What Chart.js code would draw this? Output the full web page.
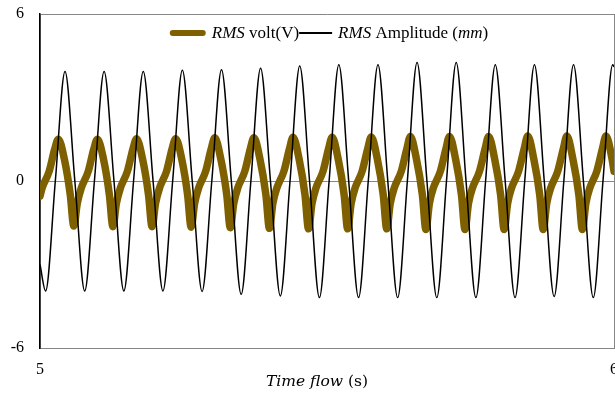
<!DOCTYPE html>
<html>
<head>
<meta charset="utf-8">
<script src="https://cdn.jsdelivr.net/npm/chart.js@4.4.1/dist/chart.umd.min.js"></script>
<style>
  html, body { margin: 0; padding: 0; background: #fff; }
  #wrap { width: 615px; height: 394px; }
</style>
</head>
<body>
<div id="wrap"><canvas id="grafico"></canvas></div>
<script>
// RMS Amplitude (mm): trough, zero, peak, zero of every cycle
const ampTime = [5.0000,
  5.0098, 5.0267, 5.0436, 5.0607,
  5.0779, 5.0948, 5.1117, 5.1289,
  5.1461, 5.1630, 5.1799, 5.1970,
  5.2142, 5.2311, 5.2480, 5.2652,
  5.2824, 5.2993, 5.3162, 5.3333,
  5.3505, 5.3674, 5.3843, 5.4015,
  5.4187, 5.4356, 5.4525, 5.4696,
  5.4868, 5.5037, 5.5206, 5.5378,
  5.5550, 5.5719, 5.5888, 5.6059,
  5.6231, 5.6400, 5.6569, 5.6741,
  5.6913, 5.7082, 5.7251, 5.7422,
  5.7594, 5.7763, 5.7932, 5.8104,
  5.8276, 5.8445, 5.8614, 5.8785,
  5.8957, 5.9126, 5.9295, 5.9467,
  5.9639, 5.9808, 5.9977, 6.0000]
const ampValue = [-3.0,
  -3.95, 0, 3.93, 0,
  -3.95, 0, 3.93, 0,
  -3.95, 0, 3.93, 0,
  -3.95, 0, 3.98, 0,
  -3.97, 0, 4.00, 0,
  -4.07, 0, 4.05, 0,
  -4.13, 0, 4.13, 0,
  -4.19, 0, 4.18, 0,
  -4.19, 0, 4.18, 0,
  -4.19, 0, 4.26, 0,
  -4.19, 0, 4.26, 0,
  -4.19, 0, 4.18, 0,
  -4.19, 0, 4.18, 0,
  -4.15, 0, 4.18, 0,
  -4.19, 0, 4.18, 4.10]

// RMS volt (V)
const voltTime = [5.0000, 5.0038, 5.0160, 5.0256,
  5.0319, 5.0423, 5.0528, 5.0589, 5.0650, 5.0720, 5.0841, 5.0937,
  5.1000, 5.1105, 5.1209, 5.1270, 5.1331, 5.1401, 5.1523, 5.1619,
  5.1682, 5.1786, 5.1891, 5.1952, 5.2013, 5.2083, 5.2205, 5.2300,
  5.2363, 5.2468, 5.2572, 5.2633, 5.2694, 5.2764, 5.2886, 5.2982,
  5.3045, 5.3149, 5.3254, 5.3315, 5.3376, 5.3446, 5.3568, 5.3663,
  5.3726, 5.3831, 5.3936, 5.3997, 5.4057, 5.4127, 5.4249, 5.4345,
  5.4408, 5.4513, 5.4617, 5.4678, 5.4739, 5.4809, 5.4931, 5.5026,
  5.5090, 5.5194, 5.5299, 5.5360, 5.5421, 5.5490, 5.5612, 5.5708,
  5.5771, 5.5876, 5.5980, 5.6041, 5.6102, 5.6172, 5.6294, 5.6390,
  5.6453, 5.6557, 5.6662, 5.6723, 5.6784, 5.6853, 5.6975, 5.7071,
  5.7134, 5.7239, 5.7343, 5.7404, 5.7465, 5.7535, 5.7657, 5.7753,
  5.7816, 5.7920, 5.8025, 5.8086, 5.8147, 5.8216, 5.8338, 5.8434,
  5.8497, 5.8602, 5.8706, 5.8767, 5.8828, 5.8898, 5.9020, 5.9116,
  5.9179, 5.9283, 5.9388, 5.9449, 5.9510, 5.9579, 5.9701, 5.9797,
  5.9860, 5.9965, 6.0000]
const voltValue = [-0.55, -0.25, 0.35, 1.15,
  1.50, 0.80, -0.50, -1.62, -0.80, -0.25, 0.35, 1.15,
  1.50, 0.80, -0.50, -1.64, -0.80, -0.25, 0.35, 1.15,
  1.52, 0.80, -0.50, -1.64, -0.80, -0.25, 0.35, 1.15,
  1.52, 0.80, -0.50, -1.66, -0.80, -0.25, 0.35, 1.15,
  1.55, 0.80, -0.50, -1.68, -0.80, -0.25, 0.35, 1.15,
  1.55, 0.80, -0.50, -1.70, -0.80, -0.25, 0.35, 1.15,
  1.57, 0.80, -0.50, -1.72, -0.80, -0.25, 0.35, 1.15,
  1.57, 0.80, -0.50, -1.72, -0.80, -0.25, 0.35, 1.15,
  1.58, 0.80, -0.50, -1.72, -0.80, -0.25, 0.35, 1.15,
  1.60, 0.80, -0.50, -1.74, -0.80, -0.25, 0.35, 1.15,
  1.60, 0.80, -0.50, -1.74, -0.80, -0.25, 0.35, 1.15,
  1.60, 0.80, -0.50, -1.74, -0.80, -0.25, 0.35, 1.15,
  1.62, 0.80, -0.50, -1.74, -0.80, -0.25, 0.35, 1.15,
  1.62, 0.80, -0.50, -1.74, -0.80, -0.25, 0.35, 1.15,
  1.62, 0.80, 0.35]

const xTicks = [5, 6]
const yTicks = [-6, 0, 6]

const voltLabel = [['RMS', true], [' volt(V)', false]]
const ampLabel = [['RMS', true], [' Amplitude (', false], ['mm', true], [')', false]]
const xTitle = [['Time flow', true], [' (s)', false]]

const toPoints = (xs, ys) => xs.map((x, i) => ({x: x, y: ys[i]}))

// draws a run of text pieces, some in italics, starting at x
function drawParts(ctx, parts, x, y, size, family) {
  parts.forEach(([txt, it]) => {
    ctx.font = (it ? 'italic ' : '') + size + 'px ' + family
    ctx.fillText(txt, x, y)
    x += ctx.measureText(txt).width
  })
  return x
}
function partsWidth(ctx, parts, size, family) {
  let w = 0
  parts.forEach(([txt, it]) => {
    ctx.font = (it ? 'italic ' : '') + size + 'px ' + family
    w += ctx.measureText(txt).width
  })
  return w
}

const textos = {
  id: 'textos',
  afterDraw(chart) {
    const ctx = chart.ctx
    const area = chart.chartArea
    const serif = '"Liberation Serif", "Times New Roman", serif'
    ctx.save()
    ctx.fillStyle = '#000'
    ctx.textBaseline = 'middle'

    // legend across the top of the plot
    const items = chart.data.datasets.map(ds => ({
      parts: ds.parts, color: ds.borderColor, w: ds.legendWidth, lw: ds.legendLine
    }))
    let total = 0
    items.forEach(it => { total += it.w + 6 + partsWidth(ctx, it.parts, 17, serif) })
    let x = (area.left + area.right) / 2 + 2 - total / 2
    const y = area.top + 19
    items.forEach(it => {
      ctx.strokeStyle = it.color
      ctx.lineWidth = it.lw
      ctx.lineCap = it.lw > 3 ? 'round' : 'butt'
      ctx.beginPath()
      ctx.moveTo(x + (it.lw > 3 ? 3 : 0), y)
      ctx.lineTo(x + it.w - (it.lw > 3 ? 3 : 0), y)
      ctx.stroke()
      x = drawParts(ctx, it.parts, x + it.w + 6, y + 1, 17, serif)
    })

    // x axis title
    const tf = '"DejaVu Serif", serif'
    const tw = partsWidth(ctx, xTitle, 15.5, tf)
    drawParts(ctx, xTitle, (area.left + area.right) / 2 - 10 - tw / 2, 382, 15.5, tf)
    ctx.restore()
  }
}

const config = {
  type: 'line',
  data: {
    datasets: [
      {
        data: toPoints(voltTime, voltValue),
        parts: voltLabel,
        legendWidth: 36,
        legendLine: 6,
        borderColor: '#7f6000',
        borderWidth: 7.5,
        borderJoinStyle: 'round',
        borderCapStyle: 'round',
        order: 2
      },
      {
        data: toPoints(ampTime, ampValue),
        parts: ampLabel,
        legendWidth: 33,
        legendLine: 2,
        borderColor: '#000000',
        borderWidth: 1.5,
        order: 1
      }
    ]
  },
  options: {
    animation: false,
    responsive: true,
    maintainAspectRatio: false,
    parsing: false,
    elements: {
      point: { radius: 0 },
      line: { cubicInterpolationMode: 'monotone' }
    },
    layout: { autoPadding: false, padding: { top: 14, right: 1, left: 0, bottom: 0 } },
    plugins: {
      legend: { display: false },
      tooltip: { enabled: false }
    },
    scales: {
      x: {
        type: 'linear',
        min: xTicks[0],
        max: xTicks[xTicks.length - 1],
        afterBuildTicks: s => { s.ticks = xTicks.map(v => ({value: v})) },
        afterFit: s => { s.height = 46; s.paddingLeft = 0; s.paddingRight = 0 },
        grid: { color: '#868686', drawTicks: false },
        border: { color: '#868686', width: 1 },
        ticks: {
          padding: 12,
          color: '#000',
          maxRotation: 0,
          font: { family: '"Liberation Serif"', size: 16 }
        }
      },
      y: {
        min: yTicks[0],
        max: yTicks[yTicks.length - 1],
        afterBuildTicks: s => { s.ticks = yTicks.map(v => ({value: v})) },
        afterFit: s => { s.width = 40; s.paddingTop = 0; s.paddingBottom = 0 },
        grid: { color: '#868686', drawTicks: false },
        border: { color: '#000', width: 1.5 },
        ticks: {
          padding: 16,
          color: '#000',
          font: { family: '"Liberation Serif"', size: 16 }
        }
      }
    }
  },
  plugins: [textos]
}

let myChart = new Chart(document.getElementById('grafico'), config)
</script>
</body>
</html>
